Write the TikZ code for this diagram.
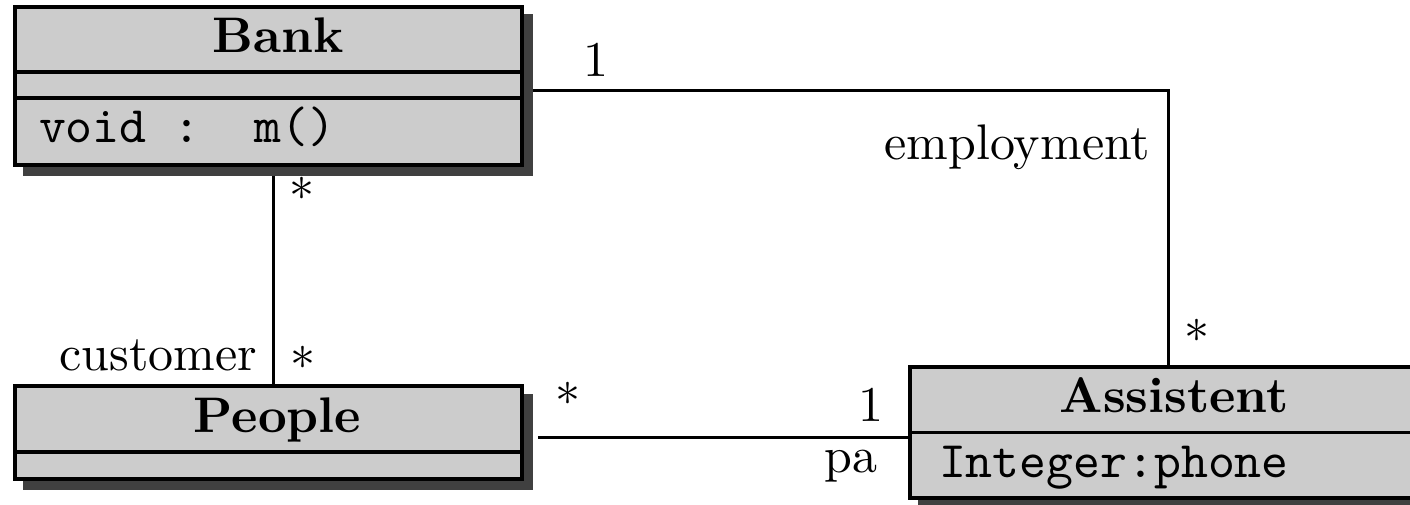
\documentclass[tikz,border=0pt]{standalone}
\usetikzlibrary{fit}
\definecolor{umlfill}{HTML}{CCCCCC}
\definecolor{umlshade}{HTML}{404040}
\begin{document}
\begin{tikzpicture}[x=0.2pt,y=-0.2pt,
  classbox/.style={rectangle, draw=black, line width=0.75pt, fill=umlfill, inner sep=0pt},
  classshadow/.style={rectangle, fill=umlshade, inner sep=0pt, outer sep=0pt},
  extent/.style={rectangle, inner sep=0pt, outer sep=0pt},
  divider/.style={line width=0.75pt},
  assoc/.style={line width=0.6pt},
  lbl/.style={inner sep=0pt, font=\fontsize{10}{12}\selectfont},
  title/.style={lbl, anchor=base, font=\fontsize{10}{12}\selectfont\bfseries},
  member/.style={lbl, anchor=base west, font=\fontsize{10.25}{12}\selectfont\ttfamily}]
\useasboundingbox (0,0) rectangle (1410,505);
\clip (0,0) rectangle (1410,505);

% Bank
\node[classshadow, fit={(22.6,14.3) (533.3,176)}] (bankshadow) {};
\node[classbox, fit={(15.2,6.9) (522.1,164.8)}] (bank) {};
\draw[divider] (bank.west |- 0,72.2) -- (bank.east |- 0,72.2);
\draw[divider] (bank.west |- 0,97.8) -- (bank.east |- 0,97.8);
\node[title] (bankname) at (278,53) {Bank};
\node[member] (bankop) at (38,143) {void :\ \ m()};
\node[extent, fit=(bank)(bankshadow)] (bankall) {};

% People
\node[classshadow, fit={(22.6,393.6) (533.3,490)}] (peopleshadow) {};
\node[classbox, fit={(15.2,386.2) (522.1,478.8)}] (people) {};
\draw[divider] (people.west |- 0,451.7) -- (people.east |- 0,451.7);
\node[title] (peoplename) at (277.5,432.5) {People};
\node[extent, fit=(people)(peopleshadow)] (peopleall) {};

% Assistent
\node[classshadow, fit={(917.6,374.3) (1427.7,509.3)}] (assistshadow) {};
\node[classbox, fit={(910.2,366.9) (1416.5,498.1)}] (assist) {};
\draw[divider] (assist.west |- 0,432.5) -- (assist.east |- 0,432.5);
\node[title] (assistname) at (1174,412.5) {Assistent};
\node[member] (assistattr) at (938,477) {Integer:phone};
\node[extent, fit=(assist)(assistshadow)] (assistall) {};

% Associations
\draw[assoc] (bankall.east) -| (assistall.north);
\draw[assoc] (bankall.south) -- (peopleall.north);
\draw[assoc] ([xshift=1pt]peopleall.east) -- (assistall.west);

% Role names and multiplicities
\node[lbl, anchor=base] (m1) at (595.5,77) {1};
\node[lbl, anchor=base east] (employ) at (1151,160) {employment};
\node[lbl, anchor=base] (m2) at (1197,342.5) {$*$};
\node[lbl, anchor=base] (m3) at (302,200.5) {$*$};
\node[lbl, anchor=base] (m4) at (302.5,369.5) {$*$};
\node[lbl, anchor=base east] (cust) at (258,370) {customer};
\node[lbl, anchor=base] (m5) at (567.5,405.5) {$*$};
\node[lbl, anchor=base] (m6) at (871,421) {1};
\node[lbl, anchor=base east] (pa) at (878,472) {pa};
\end{tikzpicture}
\end{document}
